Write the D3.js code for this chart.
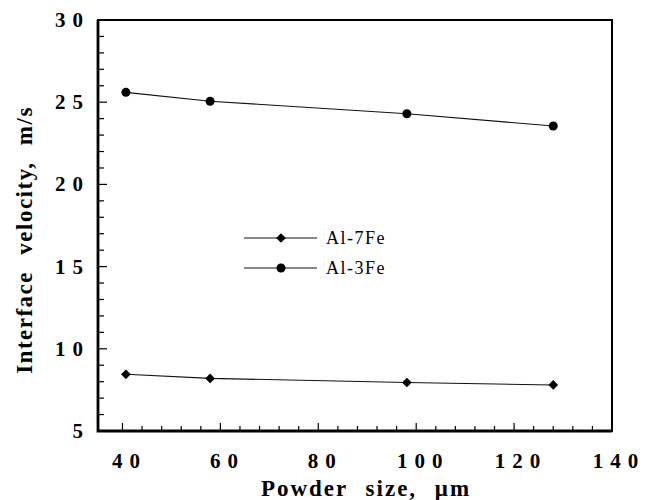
<!DOCTYPE html>
<html>
<head>
<meta charset="utf-8">
<script src="https://cdn.jsdelivr.net/npm/d3@7"></script>
<style>
  body { margin: 0; background: #fff; }
  svg { display: block; }
  .tick-lbl { font-family: "Liberation Serif", "Times New Roman", serif; font-weight: bold; font-size: 21px; letter-spacing: 7px; }
  .ax-title { font-family: "Liberation Serif", "Times New Roman", serif; font-weight: bold; font-size: 23px; letter-spacing: 2px; word-spacing: 10px; }
  .y-title { letter-spacing: 1.5px; word-spacing: 9px; }
  .leg { font-family: "Liberation Serif", "Times New Roman", serif; font-size: 18px; letter-spacing: 1.5px; }
</style>
</head>
<body>
<svg id="chart" width="652" height="500"></svg>
<script>
// powder size (um)
var powderSize = [40.7, 57.9, 98.1, 128.0];
// interface velocity (m/s)
var al7Fe = [8.45, 8.2, 7.95, 7.8];
var al3Fe = [25.6, 25.06, 24.3, 23.55];
var seriesNames = ["Al-7Fe", "Al-3Fe"];
var xTickLabels = [40, 60, 80, 100, 120, 140];
var yTickLabels = [5, 10, 15, 20, 25, 30];

var svg = d3.select("#chart");
var pLeft = 98, pRight = 612, pTop = 20, pBottom = 431;

var x = d3.scaleLinear().domain([35, 140]).range([pLeft, pRight]);
var y = d3.scaleLinear().domain([5, 30]).range([pBottom, pTop]);

//minor and major ticks, drawn inward
var xMinor = d3.range(40, 140, 4);
svg.selectAll("line.xminor").data(xMinor).enter().append("line")
    .attr("x1", function(d) { return x(d); }).attr("x2", function(d) { return x(d); })
    .attr("y1", pBottom).attr("y2", function(d) { return (d - 40) % 20 === 0 ? pBottom - 8 : pBottom - 5; })
    .attr("stroke", "#000").attr("stroke-width", 1.2);

var yMinor = d3.range(6, 30, 1);
svg.selectAll("line.yminor").data(yMinor).enter().append("line")
    .attr("y1", function(d) { return y(d); }).attr("y2", function(d) { return y(d); })
    .attr("x1", pLeft).attr("x2", function(d) { return d % 5 === 0 ? pLeft + 9 : pLeft + 6; })
    .attr("stroke", "#000").attr("stroke-width", 1.2);

//frame, left and bottom a bit heavier
svg.append("rect")
    .attr("x", pLeft).attr("y", pTop)
    .attr("width", pRight - pLeft).attr("height", pBottom - pTop)
    .attr("fill", "none").attr("stroke", "#000").attr("stroke-width", 2);
svg.append("path")
    .attr("d", "M" + pLeft + "," + pTop + "V" + pBottom + "H" + pRight)
    .attr("fill", "none").attr("stroke", "#000").attr("stroke-width", 2.8);

//tick labels
svg.selectAll("text.xl").data(xTickLabels).enter().append("text")
    .attr("class", "tick-lbl")
    .attr("x", function(d) { return x(d) + 7; })
    .attr("y", 468)
    .attr("text-anchor", "middle")
    .text(function(d) { return d; });

svg.selectAll("text.yl").data(yTickLabels).enter().append("text")
    .attr("class", "tick-lbl")
    .attr("x", 90)
    .attr("y", function(d) { return y(d) + 7; })
    .attr("text-anchor", "end")
    .text(function(d) { return d; });

//axis titles
svg.append("text").attr("class", "ax-title")
    .attr("x", 366).attr("y", 496)
    .attr("text-anchor", "middle")
    .text("Powder size, \u03bcm");

svg.append("text").attr("class", "ax-title y-title")
    .attr("transform", "translate(32,240) rotate(-90)")
    .attr("text-anchor", "middle")
    .text("Interface velocity, m/s");

//series
var line = d3.line()
    .x(function(d) { return x(d[0]); })
    .y(function(d) { return y(d[1]); });

var s7 = d3.zip(powderSize, al7Fe);
var s3 = d3.zip(powderSize, al3Fe);

[s7, s3].forEach(function(s) {
    svg.append("path").datum(s)
        .attr("d", line)
        .attr("fill", "none").attr("stroke", "#111").attr("stroke-width", 1.1);
});

var diamond = d3.symbol().type(d3.symbolDiamond2).size(60);
svg.selectAll("path.dia").data(s7).enter().append("path")
    .attr("d", diamond)
    .attr("transform", function(d) { return "translate(" + x(d[0]) + "," + y(d[1]) + ")"; })
    .attr("fill", "#000");

svg.selectAll("circle.dot").data(s3).enter().append("circle")
    .attr("cx", function(d) { return x(d[0]); })
    .attr("cy", function(d) { return y(d[1]); })
    .attr("r", 4.5)
    .attr("fill", "#000");

//legend
var legY = [238, 268];
seriesNames.forEach(function(name, i) {
    var g = svg.append("g").attr("transform", "translate(0," + legY[i] + ")");
    g.append("line").attr("x1", 244).attr("x2", 317).attr("y1", 0).attr("y2", 0)
        .attr("stroke", "#111").attr("stroke-width", 1.1);
    if (i === 0) {
        g.append("path").attr("d", diamond).attr("transform", "translate(281,0)").attr("fill", "#000");
    } else {
        g.append("circle").attr("cx", 281).attr("cy", 0).attr("r", 4.5).attr("fill", "#000");
    }
    g.append("text").attr("class", "leg")
        .attr("x", 326).attr("y", 6)
        .text(name);
});
</script>
</body>
</html>
